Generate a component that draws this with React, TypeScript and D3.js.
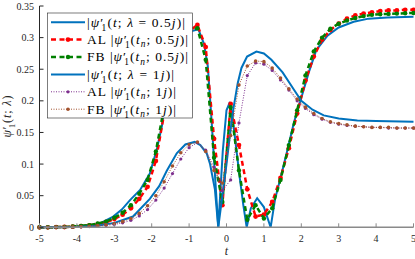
import * as d3 from 'd3';

// continuous solutions
const tSol05 = [-5, -4.5, -4, -3.5, -3.38, -3.03, -2.8, -2.58, -2.31, -2.05, -1.87, -1.73, -1.64, -1.5, -1.3, -1.1, -0.9, -0.75, -0.6, -0.5, -0.4, -0.3, -0.22, -0.1, 0, 0.07, 0.15, 0.25, 0.35, 0.45, 0.54, 0.65, 0.82, 1.0, 1.18, 1.3, 1.43, 1.6, 1.8, 2.0, 2.2, 2.4, 2.7, 3.0, 3.4, 3.8, 4.3, 5];
const psi05 = [0, 0.0002, 0.0008, 0.004, 0.006, 0.017, 0.028, 0.043, 0.059, 0.085, 0.122, 0.159, 0.2, 0.25, 0.285, 0.303, 0.311, 0.313, 0.29, 0.255, 0.17, 0.075, 0, 0.12, 0.185, 0.195, 0.18, 0.13, 0.08, 0.035, 0, 0.03, 0.046, 0.032, 0, 0.045, 0.075, 0.115, 0.165, 0.205, 0.245, 0.28, 0.303, 0.316, 0.325, 0.33, 0.332, 0.333];

const tSol1 = [-5, -4, -3.5, -3, -2.5, -2.05, -1.8, -1.6, -1.33, -1.1, -0.85, -0.7, -0.53, -0.44, -0.31, -0.22, -0.1, 0, 0.1, 0.18, 0.3, 0.4, 0.55, 0.8, 1.0, 1.2, 1.5, 1.8, 2.0, 2.3, 2.6, 3.0, 3.5, 4.0, 5];
const psi1 = [0, 0.0005, 0.002, 0.007, 0.017, 0.045, 0.065, 0.089, 0.117, 0.131, 0.135, 0.13, 0.117, 0.1, 0.06, 0, 0.055, 0.1, 0.15, 0.186, 0.228, 0.252, 0.27, 0.278, 0.275, 0.265, 0.245, 0.218, 0.2, 0.186, 0.177, 0.172, 0.169, 0.168, 0.167];

// sample grid t_n
const tn = [-5, -4.778, -4.556, -4.333, -4.111, -3.889, -3.667, -3.444, -3.222, -3, -2.778, -2.556, -2.333, -2.111, -1.889, -1.667, -1.444, -1.222, -1, -0.778, -0.556, -0.333, -0.111, 0.111, 0.333, 0.556, 0.778, 1, 1.222, 1.444, 1.667, 1.889, 2.111, 2.333, 2.556, 2.778, 3, 3.222, 3.444, 3.667, 3.889, 4.111, 4.333, 4.556, 4.778, 5];

const al05 = [0, 0, 0.0003, 0.0005, 0.001, 0.002, 0.003, 0.005, 0.008, 0.013, 0.02, 0.03, 0.045, 0.064, 0.105, 0.18, 0.25, 0.29, 0.31, 0.32, 0.285, 0.14, 0.035, 0.195, 0.13, 0.06, 0.017, 0.02, 0.04, 0.078, 0.125, 0.18, 0.232, 0.27, 0.297, 0.312, 0.322, 0.33, 0.335, 0.338, 0.34, 0.342, 0.343, 0.343, 0.344, 0.344];
const fb05 = [0, 0, 0.0003, 0.0006, 0.0012, 0.0022, 0.0035, 0.006, 0.009, 0.015, 0.023, 0.035, 0.053, 0.075, 0.12, 0.19, 0.255, 0.292, 0.31, 0.315, 0.265, 0.11, 0.04, 0.19, 0.09, 0.012, 0.035, 0.014, 0.03, 0.075, 0.13, 0.185, 0.24, 0.278, 0.3, 0.314, 0.322, 0.327, 0.331, 0.334, 0.336, 0.337, 0.3375, 0.338, 0.3385, 0.339];
const al1 = [0, 0, 0.0002, 0.0003, 0.0005, 0.0008, 0.0012, 0.002, 0.003, 0.0045, 0.007, 0.011, 0.018, 0.028, 0.043, 0.062, 0.085, 0.108, 0.126, 0.134, 0.122, 0.095, 0.058, 0.075, 0.165, 0.24, 0.26, 0.258, 0.248, 0.233, 0.217, 0.2, 0.188, 0.178, 0.171, 0.166, 0.163, 0.161, 0.16, 0.159, 0.158, 0.158, 0.157, 0.157, 0.157, 0.157];
const fb1 = [0, 0, 0.0002, 0.0004, 0.0006, 0.001, 0.0016, 0.0026, 0.004, 0.006, 0.009, 0.014, 0.022, 0.034, 0.05, 0.072, 0.097, 0.118, 0.131, 0.135, 0.12, 0.09, 0.07, 0.145, 0.225, 0.255, 0.263, 0.262, 0.252, 0.236, 0.219, 0.203, 0.19, 0.18, 0.172, 0.167, 0.164, 0.162, 0.16, 0.159, 0.158, 0.158, 0.158, 0.157, 0.157, 0.157];

const xTicks = [-5, -4, -3, -2, -1, 0, 1, 2, 3, 4, 5];
const yTicks = [0, 0.05, 0.1, 0.15, 0.2, 0.25, 0.3, 0.35];
const yTickLabels = ['0', '0.05', '0.1', '0.15', '0.2', '0.25', '0.3', '0.35'];

const FONT = "'Liberation Serif', 'DejaVu Serif', serif";

const series = [
  { t: tSol05, v: psi05, color: '#0072BD', width: 2, dash: undefined, r: 0, pre: '', sub: false, val: '0.5', len: 98 },
  { t: tn, v: al05, color: '#FF0000', width: 2.5, dash: '5,3.5', r: 2.4, pre: 'AL', sub: true, val: '0.5', len: 101 },
  { t: tn, v: fb05, color: '#008000', width: 2.5, dash: '5,3.5', r: 2.2, pre: 'FB', sub: true, val: '0.5', len: 101 },
  { t: tSol1, v: psi1, color: '#0072BD', width: 2, dash: undefined, r: 0, pre: '', sub: false, val: '1', len: 87 },
  { t: tn, v: al1, color: '#7E2F8E', width: 1, dash: '1,1.5', r: 1.6, pre: 'AL', sub: true, val: '1', len: 89 },
  { t: tn, v: fb1, color: '#A2522D', width: 1, dash: '1,1.5', r: 1.8, pre: 'FB', sub: true, val: '1', len: 89 },
];

function PsiSpans({ fs, bars, pre, sub, val }: { fs: number; bars: boolean; pre: string; sub: boolean; val: string | null }) {
  const s = fs * 0.7;
  const d1 = fs * 0.3;
  return (
    <>
      {pre && <tspan>{pre + ' '}</tspan>}
      {bars && <tspan>|</tspan>}
      <tspan fontStyle="italic">ψ</tspan>
      <tspan>′</tspan>
      <tspan dx={-fs * 0.2} dy={d1} fontSize={s}>1</tspan>
      <tspan dy={-d1}>(</tspan>
      <tspan fontStyle="italic">t</tspan>
      {sub && <tspan dy={d1 * 0.8} fontSize={s} fontStyle="italic">n</tspan>}
      <tspan dy={sub ? -d1 * 0.8 : 0}>{'; '}</tspan>
      {val === null ? (
        <tspan fontStyle="italic">λ</tspan>
      ) : sub ? (
        <tspan>{val}</tspan>
      ) : (
        <>
          <tspan fontStyle="italic">λ</tspan>
          <tspan>{' = ' + val}</tspan>
        </>
      )}
      {val !== null && <tspan fontStyle="italic">j</tspan>}
      <tspan>)</tspan>
      {bars && <tspan>|</tspan>}
    </>
  );
}

export default function App() {
  const width = 415;
  const height = 259;
  const x = d3.scaleLinear().domain([-5, 5]).range([39.5, 413.5]);
  const y = d3.scaleLinear().domain([0, 0.35]).range([227.3, 6]);
  const line = d3
    .line<[number, number]>()
    .x((d) => x(d[0]))
    .y((d) => y(d[1]));

  const legX = 47.5;
  const legY = 13;
  const rowH = 17.4;

  return (
    <div style={{ position: 'absolute', left: 0, top: 0 }}>
      <svg width={width} height={height} style={{ fontFamily: FONT, display: 'block' }}>
        <rect width={width} height={height} fill="#fff" />

        {series.map((s, i) => {
          const pts = s.t.map((t, k) => [t, s.v[k]] as [number, number]);
          return (
            <g key={i}>
              <path d={line(pts) || ''} fill="none" stroke={s.color} strokeWidth={s.width} strokeDasharray={s.dash} />
              {s.r > 0 && pts.map((p, k) => <circle key={k} cx={x(p[0])} cy={y(p[1])} r={s.r} fill={s.color} />)}
            </g>
          );
        })}

        {/* axes */}
        <line x1={39.5} x2={39.5} y1={6} y2={227.3} stroke="#262626" strokeWidth={1} />
        <line x1={39.5} x2={413.5} y1={227.3} y2={227.3} stroke="#8a8a8a" strokeWidth={1.4} />
        {xTicks.map((t) => (
          <g key={t}>
            <line x1={x(t)} x2={x(t)} y1={227.3} y2={223.3} stroke="#8a8a8a" />
            <text x={x(t)} y={242} fontSize={10} textAnchor="middle" fill="#262626">
              {String(t)}
            </text>
          </g>
        ))}
        {yTicks.map((v, i) => (
          <g key={v}>
            <line x1={39.5} x2={43.5} y1={y(v)} y2={y(v)} stroke="#262626" />
            <text x={34} y={y(v) + 3.5} fontSize={10} textAnchor="end" fill="#262626">
              {yTickLabels[i]}
            </text>
          </g>
        ))}
        <text x={x(0)} y={255} fontSize={12} textAnchor="middle" fontStyle="italic" fill="#262626">
          t
        </text>
        <text
          transform="translate(11,116.6) rotate(-90)"
          fontSize={12}
          textAnchor="middle"
          fill="#262626"
          textLength={42}
          lengthAdjust="spacing"
        >
          <PsiSpans fs={12} bars={false} pre="" sub={false} val={null} />
        </text>

        {/* legend */}
        <rect x={legX} y={legY} width={145} height={105} fill="#fff" stroke="#262626" strokeWidth={0.6} />
        {series.map((s, i) => {
          const cy = legY + rowH * (i + 0.5) + 0.5;
          return (
            <g key={'l' + i}>
              <line x1={51} x2={85} y1={cy} y2={cy} stroke={s.color} strokeWidth={s.width} strokeDasharray={s.dash} />
              {s.r > 0 && <circle cx={68} cy={cy} r={s.r} fill={s.color} />}
              <text x={87} y={cy + 4.3} fontSize={13.5} fill="#000" textLength={s.len} lengthAdjust="spacing">
                <PsiSpans fs={13.5} bars={true} pre={s.pre} sub={s.sub} val={s.val} />
              </text>
            </g>
          );
        })}
      </svg>
    </div>
  );
}
